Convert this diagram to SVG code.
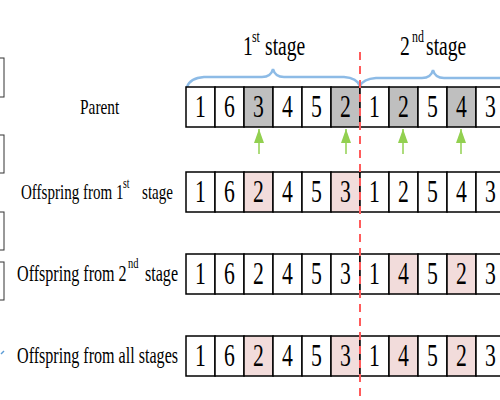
<svg xmlns="http://www.w3.org/2000/svg" width="500" height="400" viewBox="0 0 500 400" font-family="Liberation Serif, serif">
  <defs>
    <style>
      .cell { stroke: #000; stroke-width: 1.5; fill: #fff; }
      .sel { fill: #bfbfbf; }
      .chg { fill: #f2dcdb; }
      .num { font-size: 31px; text-anchor: middle; }
      .brace { fill: none; stroke: #8dbbe6; stroke-width: 2.5; stroke-linecap: round; }
      .arrow { stroke: #92d050; stroke-width: 1.5; }
      .cut { stroke: #ff5b5b; stroke-width: 2; stroke-dasharray: 8 6; }
      .edge { fill: #fff; stroke: #333; stroke-width: 1; }
    </style>
    <marker id="head" viewBox="0 0 14 10" refX="14" refY="5" markerWidth="14" markerHeight="10" markerUnits="userSpaceOnUse" orient="auto">
      <path d="M0,0 L14,5 L0,10 Z" fill="#92d050"/>
    </marker>
  </defs>

  <!-- partial boxes at the left edge -->
  <g id="edge-boxes">
    <rect class="edge" x="-10" y="58" width="14" height="39"/>
    <rect class="edge" x="-10" y="135" width="14" height="38"/>
    <rect class="edge" x="-10" y="212" width="14" height="38"/>
    <rect class="edge" x="-10" y="262" width="14" height="38"/>
    <path d="M1,354 L4,351" stroke="#5b9bd5" stroke-width="1.5"/>
  </g>

  <!-- stage headers and braces (type is set narrow: scaled 0.7 horizontally) -->
  <g id="stage1">
    <text font-family="Liberation Serif, serif" transform="scale(0.7,1)" font-size="28"><tspan x="347" y="55">1</tspan><tspan x="360" y="42" font-size="17">st</tspan> <tspan x="378.6" y="55">stage</tspan></text>
    <path class="brace" d="M187,87 Q190,78 204,77 L262,77 Q271,77 273,69 Q275,77 284,77 L344,77 Q357,78 360,86"/>
  </g>
  <g id="stage2">
    <text font-family="Liberation Serif, serif" transform="scale(0.7,1)" font-size="28"><tspan x="571.4" y="55">2</tspan><tspan x="588.6" y="42" font-size="17">nd</tspan> <tspan x="608.6" y="55">stage</tspan></text>
    <path class="brace" d="M360,86 Q363,79 376,78 L422,78 Q431,78 433,70 Q435,78 444,78 L500,78"/>
  </g>

  <!-- row: Parent -->
  <g id="parent">
    <text font-family="Liberation Serif, serif" transform="scale(0.7,1)" x="114.3" y="114" font-size="22">Parent</text>
    <rect class="cell" x="186" y="87" width="29" height="40"/>
    <rect class="cell" x="215" y="87" width="29" height="40"/>
    <rect class="cell sel" x="244" y="87" width="29" height="40"/>
    <rect class="cell" x="273" y="87" width="29" height="40"/>
    <rect class="cell" x="302" y="87" width="29" height="40"/>
    <rect class="cell sel" x="331" y="87" width="29" height="40"/>
    <rect class="cell" x="360" y="87" width="29" height="40"/>
    <rect class="cell sel" x="389" y="87" width="29" height="40"/>
    <rect class="cell" x="418" y="87" width="29" height="40"/>
    <rect class="cell sel" x="447" y="87" width="29" height="40"/>
    <rect class="cell" x="476" y="87" width="29" height="40"/>
    <text font-family="Liberation Serif, serif" class="num" transform="scale(0.7,1)" y="117"><tspan x="286.43">1</tspan><tspan x="327.86">6</tspan><tspan x="369.29">3</tspan><tspan x="410.71">4</tspan><tspan x="452.14">5</tspan><tspan x="493.57">2</tspan><tspan x="535">1</tspan><tspan x="576.43">2</tspan><tspan x="617.86">5</tspan><tspan x="659.29">4</tspan><tspan x="700.71">3</tspan></text>
  </g>

  <!-- row: Offspring from 1st stage -->
  <g id="offspring1">
    <text font-family="Liberation Serif, serif" transform="scale(0.7,1)" font-size="21.5"><tspan x="30" y="199.5">Offspring from 1</tspan><tspan x="175.7" y="188" font-size="14">st</tspan> <tspan x="202.9" y="199.5">stage</tspan></text>
    <rect class="cell" x="186" y="172" width="29" height="40"/>
    <rect class="cell" x="215" y="172" width="29" height="40"/>
    <rect class="cell chg" x="244" y="172" width="29" height="40"/>
    <rect class="cell" x="273" y="172" width="29" height="40"/>
    <rect class="cell" x="302" y="172" width="29" height="40"/>
    <rect class="cell chg" x="331" y="172" width="29" height="40"/>
    <rect class="cell" x="360" y="172" width="29" height="40"/>
    <rect class="cell" x="389" y="172" width="29" height="40"/>
    <rect class="cell" x="418" y="172" width="29" height="40"/>
    <rect class="cell" x="447" y="172" width="29" height="40"/>
    <rect class="cell" x="476" y="172" width="29" height="40"/>
    <text font-family="Liberation Serif, serif" class="num" transform="scale(0.7,1)" y="202"><tspan x="286.43">1</tspan><tspan x="327.86">6</tspan><tspan x="369.29">2</tspan><tspan x="410.71">4</tspan><tspan x="452.14">5</tspan><tspan x="493.57">3</tspan><tspan x="535">1</tspan><tspan x="576.43">2</tspan><tspan x="617.86">5</tspan><tspan x="659.29">4</tspan><tspan x="700.71">3</tspan></text>
  </g>

  <!-- row: Offspring from 2nd stage -->
  <g id="offspring2">
    <text font-family="Liberation Serif, serif" transform="scale(0.7,1)" font-size="23"><tspan x="24.3" y="281">Offspring from 2</tspan><tspan x="182.9" y="268" font-size="15">nd</tspan> <tspan x="207.1" y="281">stage</tspan></text>
    <rect class="cell" x="186" y="254" width="29" height="40"/>
    <rect class="cell" x="215" y="254" width="29" height="40"/>
    <rect class="cell" x="244" y="254" width="29" height="40"/>
    <rect class="cell" x="273" y="254" width="29" height="40"/>
    <rect class="cell" x="302" y="254" width="29" height="40"/>
    <rect class="cell" x="331" y="254" width="29" height="40"/>
    <rect class="cell" x="360" y="254" width="29" height="40"/>
    <rect class="cell chg" x="389" y="254" width="29" height="40"/>
    <rect class="cell" x="418" y="254" width="29" height="40"/>
    <rect class="cell chg" x="447" y="254" width="29" height="40"/>
    <rect class="cell" x="476" y="254" width="29" height="40"/>
    <text font-family="Liberation Serif, serif" class="num" transform="scale(0.7,1)" y="284"><tspan x="286.43">1</tspan><tspan x="327.86">6</tspan><tspan x="369.29">2</tspan><tspan x="410.71">4</tspan><tspan x="452.14">5</tspan><tspan x="493.57">3</tspan><tspan x="535">1</tspan><tspan x="576.43">4</tspan><tspan x="617.86">5</tspan><tspan x="659.29">2</tspan><tspan x="700.71">3</tspan></text>
  </g>

  <!-- row: Offspring from all stages -->
  <g id="offspring-all">
    <text font-family="Liberation Serif, serif" transform="scale(0.7,1)" x="24.3" y="363" font-size="23">Offspring from all stages</text>
    <rect class="cell" x="186" y="336" width="29" height="40"/>
    <rect class="cell" x="215" y="336" width="29" height="40"/>
    <rect class="cell chg" x="244" y="336" width="29" height="40"/>
    <rect class="cell" x="273" y="336" width="29" height="40"/>
    <rect class="cell" x="302" y="336" width="29" height="40"/>
    <rect class="cell chg" x="331" y="336" width="29" height="40"/>
    <rect class="cell" x="360" y="336" width="29" height="40"/>
    <rect class="cell chg" x="389" y="336" width="29" height="40"/>
    <rect class="cell" x="418" y="336" width="29" height="40"/>
    <rect class="cell chg" x="447" y="336" width="29" height="40"/>
    <rect class="cell" x="476" y="336" width="29" height="40"/>
    <text font-family="Liberation Serif, serif" class="num" transform="scale(0.7,1)" y="366"><tspan x="286.43">1</tspan><tspan x="327.86">6</tspan><tspan x="369.29">2</tspan><tspan x="410.71">4</tspan><tspan x="452.14">5</tspan><tspan x="493.57">3</tspan><tspan x="535">1</tspan><tspan x="576.43">4</tspan><tspan x="617.86">5</tspan><tspan x="659.29">2</tspan><tspan x="700.71">3</tspan></text>
  </g>

  <!-- selection arrows and stage cut -->
  <g id="connectors">
    <line class="arrow" x1="259" y1="154" x2="259" y2="129" marker-end="url(#head)"/>
    <line class="arrow" x1="346" y1="154" x2="346" y2="129" marker-end="url(#head)"/>
    <line class="arrow" x1="403" y1="154" x2="403" y2="129" marker-end="url(#head)"/>
    <line class="arrow" x1="461" y1="154" x2="461" y2="129" marker-end="url(#head)"/>
    <line class="cut" x1="360" y1="52" x2="360" y2="400"/>
  </g>
</svg>
